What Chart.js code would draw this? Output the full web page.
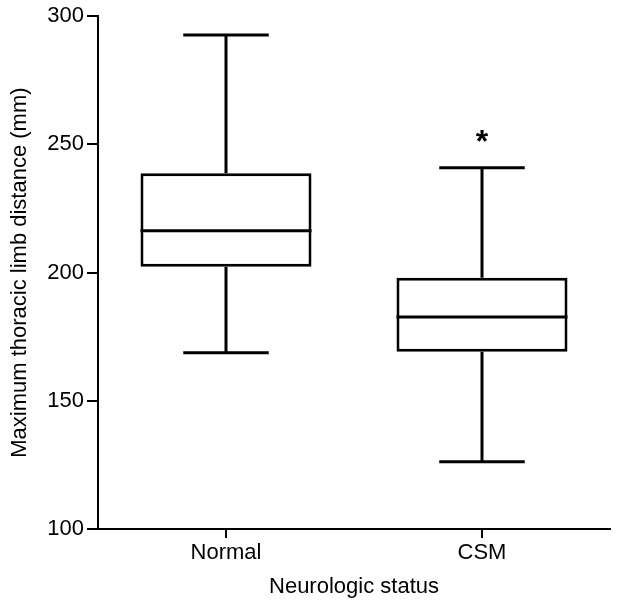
<!DOCTYPE html>
<html>
<head>
<meta charset="utf-8">
<script src="https://cdn.jsdelivr.net/npm/chart.js@4.4.0/dist/chart.umd.min.js"></script>
<style>
  html, body { margin: 0; padding: 0; background: #fff; }
  #wrap { width: 621px; height: 604px; }
</style>
</head>
<body>
<div id="wrap"><canvas id="chart"></canvas></div>
<script>
// Box plot values
const groups = ['Normal', 'CSM'];
const minVals = [168.7, 126.2];
const q1Vals = [202.3, 169.1];
const medianVals = [216.3, 182.7];
const q3Vals = [238.7, 198.0];
const maxVals = [292.7, 240.9];
const marks = ['', '*'];

const FONT = "'Liberation Sans', Arial, sans-serif";

// whiskers, medians and the significance mark
const boxExtras = {
  id: 'boxExtras',
  afterDatasetsDraw(chart) {
    const ctx = chart.ctx;
    const y = chart.scales.y;
    const meta = chart.getDatasetMeta(0);
    ctx.save();
    ctx.strokeStyle = '#000';
    ctx.lineWidth = 3;
    ctx.lineCap = 'butt';
    meta.data.forEach((bar, i) => {
      const x = bar.x;
      const half = bar.width / 2;
      const cap = half / 2;
      const yMin = y.getPixelForValue(minVals[i]);
      const yQ1 = y.getPixelForValue(q1Vals[i]);
      const yMed = y.getPixelForValue(medianVals[i]);
      const yQ3 = y.getPixelForValue(q3Vals[i]);
      const yMax = y.getPixelForValue(maxVals[i]);
      ctx.beginPath();
      // median
      ctx.moveTo(x - half, yMed); ctx.lineTo(x + half, yMed);
      // upper whisker
      ctx.moveTo(x, yQ3); ctx.lineTo(x, yMax);
      ctx.moveTo(x - cap, yMax); ctx.lineTo(x + cap, yMax);
      // lower whisker
      ctx.moveTo(x, yQ1); ctx.lineTo(x, yMin);
      ctx.moveTo(x - cap, yMin); ctx.lineTo(x + cap, yMin);
      ctx.stroke();
      if (marks[i]) {
        ctx.fillStyle = '#000';
        ctx.font = 'bold 32px ' + FONT;
        ctx.textAlign = 'center';
        ctx.textBaseline = 'middle';
        ctx.fillText(marks[i], x, yMax - 25);
      }
    });
    ctx.restore();
  }
};

new Chart(document.getElementById('chart'), {
  type: 'bar',
  data: {
    labels: groups,
    datasets: [{
      data: groups.map((g, i) => [q1Vals[i], q3Vals[i]]),
      backgroundColor: '#fff',
      borderColor: '#000',
      borderWidth: 3,
      borderSkipped: false,
      barPercentage: 0.668,
      categoryPercentage: 1
    }]
  },
  options: {
    responsive: true,
    maintainAspectRatio: false,
    animation: false,
    layout: { padding: { top: 5, right: 11, bottom: 0, left: 0 } },
    plugins: {
      legend: { display: false },
      tooltip: { enabled: false }
    },
    scales: {
      x: {
        grid: { drawOnChartArea: false, offset: false, color: '#000', lineWidth: 2, tickLength: 9 },
        border: { color: '#000', width: 2 },
        ticks: { color: '#000', font: { family: FONT, size: 22 }, padding: 2 },
        title: {
          display: true,
          text: 'Neurologic status',
          color: '#000',
          font: { family: FONT, size: 22 },
          padding: { top: 0, bottom: 4 }
        },
        afterFit: s => { s.height = 75; }
      },
      y: {
        min: 100,
        max: 300,
        grid: { drawOnChartArea: false, color: '#000', lineWidth: 2, tickLength: 11 },
        border: { color: '#000', width: 2 },
        ticks: { stepSize: 50, color: '#000', font: { family: FONT, size: 22 }, padding: 3 },
        title: {
          display: true,
          text: 'Maximum thoracic limb distance (mm)',
          color: '#000',
          font: { family: FONT, size: 22 },
          padding: { top: 7, bottom: 0 }
        },
        afterFit: s => { s.width = 98; }
      }
    }
  },
  plugins: [boxExtras]
});
</script>
</body>
</html>
